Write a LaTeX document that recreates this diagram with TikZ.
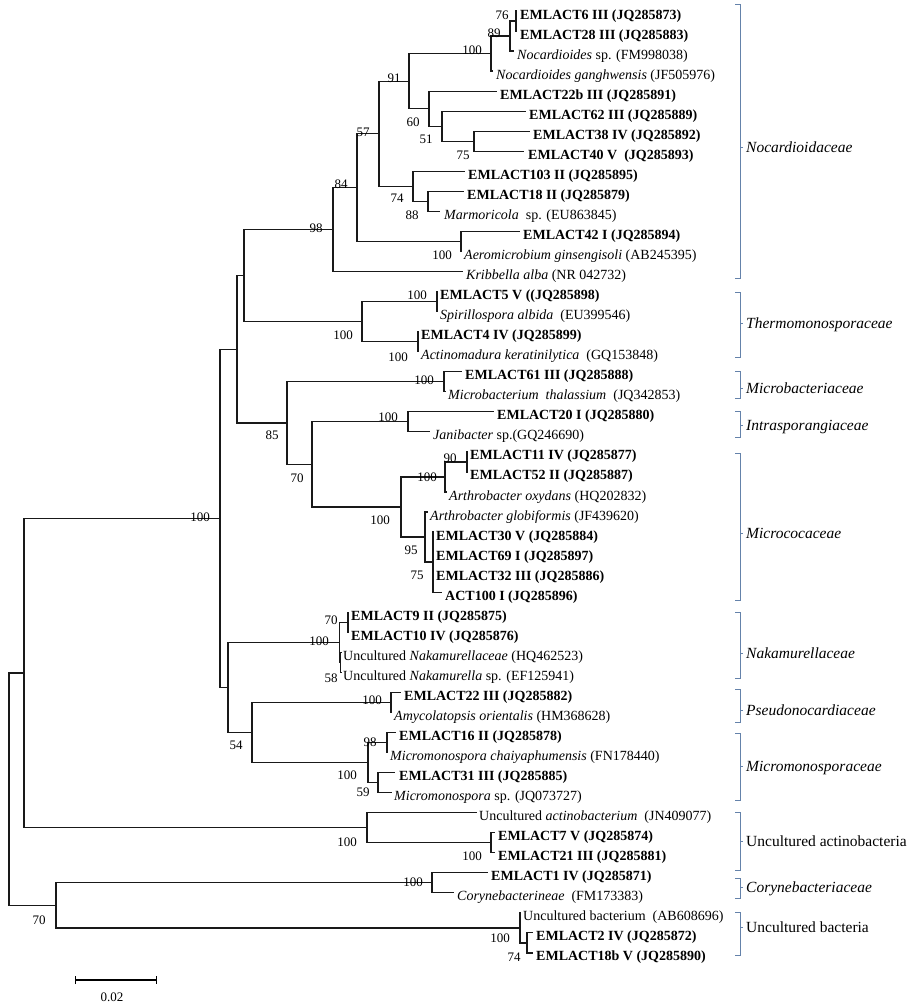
\documentclass[tikz,border=0pt]{standalone}
\usepackage{fontspec}
\setmainfont{Liberation Serif}
\usetikzlibrary{arrows.meta}
\definecolor{bcol}{RGB}{100,130,170}
\definecolor{brcol}{RGB}{25,25,25}
\begin{document}
\begin{tikzpicture}[x=1pt,y=-1pt,
  br/.style={line width=1.3pt, draw=brcol},
  lf/.style={anchor=base west, inner sep=0pt, font=\fontsize{14}{14}\selectfont},
  bs/.style={inner sep=0pt, font=\fontsize{13}{13}\selectfont},
  brk/.style={draw=bcol, line width=1pt},
  fam/.style={anchor=base west, inner sep=0pt, font=\fontsize{15.5}{15.5}\selectfont}
]
\fill[white] (0,0) rectangle (914,1004);
\useasboundingbox (0,0) rectangle (914,1004);

% ---------- leaf tips and labels ----------
\coordinate (t0) at (517,11.0);  \node[lf] (l0) at (520,19.0) {\textbf{EMLACT6 III (JQ285873)}};
\coordinate (t1) at (517,31.0);  \node[lf] (l1) at (520,39.0) {\textbf{EMLACT28 III (JQ285883)}};
\coordinate (t2) at (514,51.1);  \node[lf] (l2) at (517,59.1) {\textit{Nocardioides} sp. (FM998038)};
\coordinate (t3) at (493,71.1);  \node[lf] (l3) at (496,79.1) {\textit{Nocardioides ganghwensis} (JF505976)};
\coordinate (t4) at (497,91.2);  \node[lf] (l4) at (500,99.2) {\textbf{EMLACT22b III (JQ285891)}};
\coordinate (t5) at (526,111.2); \node[lf] (l5) at (529,119.2) {\textbf{EMLACT62 III (JQ285889)}};
\coordinate (t6) at (530,131.2); \node[lf] (l6) at (533,139.2) {\textbf{EMLACT38 IV (JQ285892)}};
\coordinate (t7) at (524,151.3); \node[lf] (l7) at (528,159.3) {\textbf{EMLACT40 V\ \ (JQ285893)}};
\coordinate (t8) at (465,171.3); \node[lf] (l8) at (468,179.3) {\textbf{EMLACT103 II (JQ285895)}};
\coordinate (t9) at (464,191.4); \node[lf] (l9) at (467,199.4) {\textbf{EMLACT18 II (JQ285879)}};
\coordinate (t10) at (440,211.4); \node[lf] (l10) at (444,219.4) {\textit{Marmoricola}\ \ sp. (EU863845)};
\coordinate (t11) at (520,231.4); \node[lf] (l11) at (523,239.4) {\textbf{EMLACT42 I (JQ285894)}};
\coordinate (t12) at (462,251.5); \node[lf] (l12) at (464,259.5) {\textit{Aeromicrobium ginsengisoli} (AB245395)};
\coordinate (t13) at (463,271.5); \node[lf] (l13) at (466,279.5) {\textit{Kribbella alba} (NR 042732)};
\coordinate (t14) at (438,291.6); \node[lf] (l14) at (440,299.6) {\textbf{EMLACT5 V ((JQ285898)}};
\coordinate (t15) at (438,311.6); \node[lf] (l15) at (440,319.6) {\textit{Spirillospora albida}\ \ (EU399546)};
\coordinate (t16) at (419,331.6); \node[lf] (l16) at (421,339.6) {\textbf{EMLACT4 IV (JQ285899)}};
\coordinate (t17) at (419,351.7); \node[lf] (l17) at (421,359.7) {\textit{Actinomadura keratinilytica}\ \ (GQ153848)};
\coordinate (t18) at (462,371.7); \node[lf] (l18) at (465,379.7) {\textbf{EMLACT61 III (JQ285888)}};
\coordinate (t19) at (446,391.8); \node[lf] (l19) at (448,399.8) {\textit{Microbacterium\ \ thalassium}\ \ (JQ342853)};
\coordinate (t20) at (494,411.8); \node[lf] (l20) at (497,419.8) {\textbf{EMLACT20 I (JQ285880)}};
\coordinate (t21) at (430,431.8); \node[lf] (l21) at (433,439.8) {\textit{Janibacter} sp.(GQ246690)};
\coordinate (t22) at (468,451.9); \node[lf] (l22) at (470,459.9) {\textbf{EMLACT11 IV (JQ285877)}};
\coordinate (t23) at (468,471.9); \node[lf] (l23) at (470,479.9) {\textbf{EMLACT52 II (JQ285887)}};
\coordinate (t24) at (447,492.0); \node[lf] (l24) at (449,500.0) {\textit{Arthrobacter oxydans} (HQ202832)};
\coordinate (t25) at (428,512.0); \node[lf] (l25) at (430,520.0) {\textit{Arthrobacter globiformis} (JF439620)};
\coordinate (t26) at (434,532.0); \node[lf] (l26) at (436,540.0) {\textbf{EMLACT30 V (JQ285884)}};
\coordinate (t27) at (434,552.1); \node[lf] (l27) at (436,560.1) {\textbf{EMLACT69 I (JQ285897)}};
\coordinate (t28) at (434,572.1); \node[lf] (l28) at (436,580.1) {\textbf{EMLACT32 III (JQ285886)}};
\coordinate (t29) at (442,592.2); \node[lf] (l29) at (445,600.2) {\textbf{ACT100 I (JQ285896)}};
\coordinate (t30) at (349,612.2); \node[lf] (l30) at (351,620.2) {\textbf{EMLACT9 II (JQ285875)}};
\coordinate (t31) at (349,632.2); \node[lf] (l31) at (351,640.2) {\textbf{EMLACT10 IV (JQ285876)}};
\coordinate (t32) at (341,652.3); \node[lf] (l32) at (343,660.3) {Uncultured \textit{Nakamurellaceae} (HQ462523)};
\coordinate (t33) at (341,672.3); \node[lf] (l33) at (343,680.3) {Uncultured \textit{Nakamurella} sp. (EF125941)};
\coordinate (t34) at (401,692.4); \node[lf] (l34) at (404,700.4) {\textbf{EMLACT22 III (JQ285882)}};
\coordinate (t35) at (392,712.4); \node[lf] (l35) at (394,720.4) {\textit{Amycolatopsis orientalis} (HM368628)};
\coordinate (t36) at (396,732.4); \node[lf] (l36) at (399,740.4) {\textbf{EMLACT16 II (JQ285878)}};
\coordinate (t37) at (388,752.5); \node[lf] (l37) at (390,760.5) {\textit{Micromonospora chaiyaphumensis} (FN178440)};
\coordinate (t38) at (395,772.5); \node[lf] (l38) at (399,780.5) {\textbf{EMLACT31 III (JQ285885)}};
\coordinate (t39) at (392,792.6); \node[lf] (l39) at (394,800.6) {\textit{Micromonospora} sp. (JQ073727)};
\coordinate (t40) at (477,812.6); \node[lf] (l40) at (479,820.6) {Uncultured \textit{actinobacterium}\ \ (JN409077)};
\coordinate (t41) at (495,832.6); \node[lf] (l41) at (498,840.6) {\textbf{EMLACT7 V (JQ285874)}};
\coordinate (t42) at (495,852.7); \node[lf] (l42) at (498,860.7) {\textbf{EMLACT21 III (JQ285881)}};
\coordinate (t43) at (488,872.7); \node[lf] (l43) at (491,880.7) {\textbf{EMLACT1 IV (JQ285871)}};
\coordinate (t44) at (454,892.8); \node[lf] (l44) at (457,900.8) {\textit{Corynebacterineae}\ \ (FM173383)};
\coordinate (t45) at (521,912.8); \node[lf] (l45) at (523,920.8) {Uncultured bacterium\ \ (AB608696)};
\coordinate (t46) at (533,932.8); \node[lf] (l46) at (536,940.8) {\textbf{EMLACT2 IV (JQ285872)}};
\coordinate (t47) at (533,952.9); \node[lf] (l47) at (536,960.9) {\textbf{EMLACT18b V (JQ285890)}};

% ---------- internal nodes ----------
\coordinate (n76) at (516,21.0);
\coordinate (n89) at (510,36.1);
\coordinate (nN100) at (491,53.6);
\coordinate (n75b) at (474,141.3);
\coordinate (n51) at (442,126.2);
\coordinate (n60) at (429,108.7);
\coordinate (n91) at (409,81.2);
\coordinate (n88) at (428,201.4);
\coordinate (n74) at (413,186.4);
\coordinate (n57) at (379,133.8);
\coordinate (nAero) at (461,241.5);
\coordinate (n84) at (357,187.6);
\coordinate (n98) at (333,229.6);
\coordinate (nE5) at (437,301.6);
\coordinate (nE4) at (418,341.7);
\coordinate (nTh) at (362,321.6);
\coordinate (nA) at (244,275.6);
\coordinate (nMb) at (444,381.8);
\coordinate (nIn) at (408,421.8);
\coordinate (n90) at (467,461.9);
\coordinate (nOx) at (445,476.9);
\coordinate (n75) at (433,562.1);
\coordinate (n95) at (425,537.1);
\coordinate (nMc) at (401,507.0);
\coordinate (n70) at (312,464.4);
\coordinate (n85) at (287,423.1);
\coordinate (nB) at (237,349.4);
\coordinate (n70n) at (348,622.2);
\coordinate (n58) at (340.5,662.3);
\coordinate (nNak) at (339.5,642.3);
\coordinate (nPs) at (391,702.4);
\coordinate (n98m) at (387,742.5);
\coordinate (n59) at (378,782.5);
\coordinate (nMm) at (368,762.5);
\coordinate (n54) at (252,732.5);
\coordinate (nC) at (228,687.4);
\coordinate (nT) at (220,518.4);
\coordinate (nUA7) at (491,842.7);
\coordinate (nUA) at (367,827.7);
\coordinate (nD) at (24,673.1);
\coordinate (nCo) at (432,882.8);
\coordinate (n74b) at (527,942.9);
\coordinate (nUB) at (520,927.9);
\coordinate (n70r) at (56,905.3);
\coordinate (root) at (9,789.2);

% ---------- branches ----------
\foreach \p/\c in {root/nD, root/n70r, nD/nT, nD/nUA, nT/nB, nT/nC,
  nB/nA, nB/n85, nA/n98, nA/nTh, n98/n84, n98/t13, n84/n57, n84/nAero,
  n57/n91, n57/n74, n91/nN100, n91/n60, nN100/n89, nN100/t3, n89/n76, n89/t2,
  n76/t0, n76/t1, n60/t4, n60/n51, n51/t5, n51/n75b, n75b/t6, n75b/t7,
  n74/t8, n74/n88, n88/t9, n88/t10, nAero/t11, nAero/t12,
  nTh/nE5, nTh/nE4, nE5/t14, nE5/t15, nE4/t16, nE4/t17,
  n85/nMb, n85/n70, nMb/t18, nMb/t19, n70/nIn, n70/nMc, nIn/t20, nIn/t21,
  nMc/nOx, nMc/n95, nOx/n90, nOx/t24, n90/t22, n90/t23, n95/t25, n95/n75,
  n75/t26, n75/t27, n75/t28, n75/t29,
  nC/nNak, nC/n54, nNak/n70n, nNak/n58, n70n/t30, n70n/t31, n58/t32, n58/t33,
  n54/nPs, n54/nMm, nPs/t34, nPs/t35, nMm/n98m, nMm/n59, n98m/t36, n98m/t37,
  n59/t38, n59/t39, nUA/t40, nUA/nUA7, nUA7/t41, nUA7/t42,
  n70r/nCo, n70r/nUB, nCo/t43, nCo/t44, nUB/t45, nUB/n74b, n74b/t46, n74b/t47}
  \draw[br] (\p) |- (\c);

% ---------- bootstrap values ----------
\node[bs] (b76) at (502,15) {76};
\node[bs] (b89) at (494,33) {89};
\node[bs] (bN100) at (472,50) {100};
\node[bs] (b91) at (394,78) {91};
\node[bs] (b60) at (413,122) {60};
\node[bs] (b51) at (426,139) {51};
\node[bs] (b75b) at (463,155) {75};
\node[bs] (b57) at (363,132) {57};
\node[bs] (b74) at (397,198) {74};
\node[bs] (b88) at (412,215) {88};
\node[bs] (b84) at (341,184) {84};
\node[bs] (bAero) at (442,255) {100};
\node[bs] (b98) at (316,228) {98};
\node[bs] (bE5) at (417,295) {100};
\node[bs] (bTh) at (343,335) {100};
\node[bs] (bE4) at (398,357) {100};
\node[bs] (bMb) at (424,380) {100};
\node[bs] (bIn) at (388,417) {100};
\node[bs] (b85) at (272,435) {85};
\node[bs] (b70) at (297,478) {70};
\node[bs] (b90) at (450,458) {90};
\node[bs] (bOx) at (427,477) {100};
\node[bs] (bMc) at (380,520) {100};
\node[bs] (b95) at (411,550) {95};
\node[bs] (b75) at (417,575) {75};
\node[bs] (bT) at (200,517) {100};
\node[bs] (b70n) at (331,620) {70};
\node[bs] (bNak) at (319,641) {100};
\node[bs] (b58) at (331,678) {58};
\node[bs] (bPs) at (372,700) {100};
\node[bs] (b98m) at (370,742) {98};
\node[bs] (bMm) at (347,775) {100};
\node[bs] (b54) at (236,745) {54};
\node[bs] (b59) at (363,792) {59};
\node[bs] (bUA) at (347,842) {100};
\node[bs] (bUA7) at (472,856) {100};
\node[bs] (bCo) at (413,882) {100};
\node[bs] (b70r) at (39,920) {70};
\node[bs] (bUB) at (500,938) {100};
\node[bs] (b74b) at (514,957) {74};

% ---------- family brackets ----------
\foreach \nm/\yt/\yb/\ym/\txt in {
  f1/4/278/147/\textit{Nocardioidaceae},
  f2/292/357/323/\textit{Thermomonosporaceae},
  f3/371/398/388/\textit{Microbacteriaceae},
  f4/411/437/425/\textit{Intrasporangiaceae},
  f5/453/600/533/\textit{Micrococaceae},
  f6/612/678/653/\textit{Nakamurellaceae},
  f7/689/722/710/\textit{Pseudonocardiaceae},
  f8/733/800/766/\textit{Micromonosporaceae},
  f9/812/870/841/Uncultured actinobacteria,
  f10/878/898/887/\textit{Corynebacteriaceae},
  f11/912/955/927/Uncultured bacteria}
{
  \coordinate (\nm t) at (740,\yt);
  \coordinate (\nm b) at (740,\yb);
  \coordinate (\nm m) at (740,\ym);
  \draw[brk] ([xshift=-5pt]\nm t) -- (\nm t) -- (\nm b) -- ([xshift=-5pt]\nm b);
  \draw[brk] (\nm m) -- ([xshift=3pt]\nm m);
  \node[fam] (\nm l) at (746,\ym+5) {\txt};
}

% ---------- scale bar ----------
\coordinate (sbL) at (75,980);
\coordinate (sbR) at (157,980);
\draw[line width=1.2pt, {Bar[width=8pt]}-{Bar[width=8pt]}] (sbL) -- (sbR);
\node[bs] (sbt) at (112,997) {0.02};
\end{tikzpicture}
\end{document}
